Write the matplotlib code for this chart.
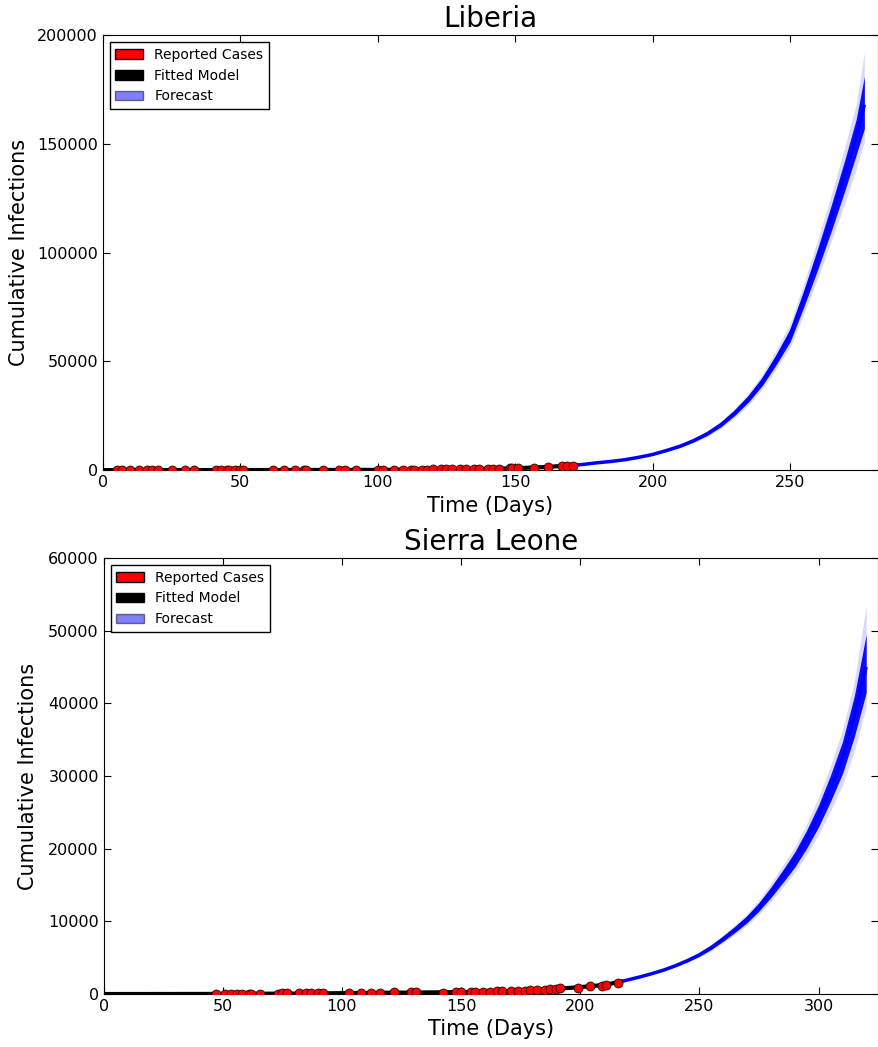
"""
Ebola cumulative infections: reported cases, fitted model and forecast
for Liberia and Sierra Leone.
"""

import matplotlib
matplotlib.use("Agg")
import matplotlib.pyplot as plt
from matplotlib.patches import Patch
from matplotlib.ticker import MultipleLocator


# ---- Liberia ----
LR_CASE_DAYS = [5, 7, 10, 13, 16, 18, 20, 25, 30, 33, 41, 43, 45, 46, 48, 50, 51,
                62, 66, 70, 73, 74, 80, 86, 88, 92, 100, 102, 106, 109, 112, 113,
                116, 118, 120, 123, 125, 127, 130, 132, 135, 137, 140, 142, 144,
                148, 149, 151, 157, 162, 167, 169, 171]
LR_CASES = [5, 8, 12, 13, 13, 14, 18, 27, 34, 35, 13, 13, 13, 13, 13, 13, 13,
            13, 13, 20, 33, 40, 60, 80, 95, 105, 120, 130, 150, 170, 195, 210,
            230, 250, 280, 310, 330, 360, 400, 440, 480, 520, 580, 620, 680,
            790, 830, 900, 1150, 1420, 1780, 1900, 2100]

LR_FIT_DAYS = [0, 40, 80, 100, 120, 140, 150, 160, 172]
LR_FIT = [5, 20, 55, 110, 260, 580, 880, 1350, 2300]

LR_FC_DAYS = [172, 175, 180, 185, 190, 195, 200, 205, 210, 215, 220, 225,
              230, 235, 240, 245, 250, 255, 260, 265, 270, 274, 277]
LR_FC_MID = [2300, 2650, 3400, 4000, 4800, 5900, 7200, 9000, 11000, 13600, 16800, 21000,
             26500, 33000, 41000, 51000, 62000, 79000, 97000, 116000, 136000, 153000, 168000]
LR_FC_LO = [2250, 2580, 3300, 3870, 4640, 5690, 6930, 8650, 10560, 13040, 16090, 20100,
            25330, 31500, 39100, 48600, 59000, 75100, 92100, 110000, 128900, 144800, 157000]
LR_FC_HI = [2350, 2720, 3500, 4130, 4960, 6110, 7470, 9350, 11440, 14160, 17510, 21900,
            27670, 34500, 42900, 53400, 65000, 82900, 101900, 122000, 143100, 161200, 181000]
LR_FC_MIN = [2200, 2520, 3220, 3780, 4520, 5520, 6720, 8380, 10220, 12600, 15520, 19360,
             24380, 30300, 37600, 46700, 56600, 71900, 88100, 105300, 123200, 138300, 151000]
LR_FC_MAX = [2400, 2780, 3580, 4220, 5080, 6280, 7680, 9620, 11780, 14600, 18080, 22640,
             28620, 35700, 44400, 55400, 67400, 86000, 105900, 126900, 149000, 168200, 192000]

# ---- Sierra Leone ----
SL_CASE_DAYS = [47, 51, 53.5, 56, 58, 61, 62, 65.5, 73, 75, 77, 82, 85, 87, 90, 92,
                103, 108, 112, 116, 122, 129, 131, 142.5, 148, 150, 154, 156, 159,
                162, 165, 167, 171, 174, 177, 179, 182, 185, 187.5, 190, 191.5,
                199, 204, 209, 211, 216]
SL_CASES = [16, 21, 28, 34, 40, 46, 50, 60, 70, 75, 80, 90, 95, 100, 105, 110,
            130, 140, 160, 180, 220, 250, 260, 200, 230, 250, 280, 300, 320,
            340, 360, 380, 410, 440, 470, 500, 540, 580, 650, 720, 790,
            850, 1050, 1150, 1250, 1550]

SL_FIT_DAYS = [0, 40, 80, 120, 150, 170, 190, 200, 210, 217]
SL_FIT = [0, 10, 60, 180, 260, 400, 720, 950, 1250, 1700]

SL_FC_DAYS = [217, 220, 225, 230, 235, 240, 245, 250, 255, 260, 265,
              270, 275, 280, 285, 290, 295, 300, 305, 310, 315, 320]
SL_FC_MID = [1700, 1950, 2350, 2800, 3300, 3900, 4600, 5400, 6400, 7600, 8900,
             10300, 12000, 14000, 16200, 18500, 21300, 24500, 28300, 32500, 38200, 45000]
SL_FC_LO = [1680, 1920, 2300, 2730, 3210, 3780, 4450, 5200, 6150, 7280, 8500,
            9820, 11420, 13280, 15330, 17460, 20060, 23000, 26500, 30300, 35400, 41500]
SL_FC_HI = [1720, 1980, 2400, 2870, 3390, 4020, 4750, 5600, 6650, 7920, 9300,
            10780, 12580, 14720, 17070, 19540, 22540, 26000, 30100, 34700, 41000, 49500]
SL_FC_MIN = [1660, 1890, 2260, 2680, 3140, 3690, 4330, 5060, 5970, 7060, 8220,
             9490, 11000, 12780, 14720, 16740, 19180, 21900, 25200, 28700, 33400, 39500]
SL_FC_MAX = [1740, 2010, 2440, 2920, 3460, 4110, 4870, 5740, 6830, 8140, 9580,
             11110, 13000, 15220, 17680, 20260, 23420, 27100, 31400, 36300, 43000, 53500]


def draw_country(ax, title, case_days, cases, fit_days, fit, fc_days,
                 fc_mid, fc_lo, fc_hi, fc_min, fc_max, xmax, ymax, ystep, ypad):
    ax.plot(fit_days, fit, color="black", linewidth=3, zorder=2)
    # forecast ensemble: faint outer envelope, dense core
    ax.fill_between(fc_days, fc_min, fc_max, color="blue", alpha=0.15, linewidth=0, zorder=2)
    ax.fill_between(fc_days, fc_lo, fc_hi, color="blue", alpha=0.95, linewidth=0, zorder=2)
    ax.plot(fc_days, fc_mid, color="blue", linewidth=2.5, zorder=2,
            solid_capstyle="butt")
    ax.plot(case_days, cases, "o", color="red", markeredgecolor="black",
            markeredgewidth=0.5, markersize=6.5, linestyle="none", zorder=3)

    ax.set_xlim(0, xmax)
    ax.set_ylim(0, ymax)
    ax.yaxis.set_major_locator(MultipleLocator(ystep))
    ax.set_title(title, fontsize=20)
    ax.set_xlabel("Time (Days)", fontsize=15)
    ax.set_ylabel("Cumulative Infections", fontsize=15, labelpad=ypad)
    ax.tick_params(direction="in", top=True, right=True, labelsize=11.5, length=5)

    handles = [
        Patch(facecolor="red", edgecolor="black", label="Reported Cases"),
        Patch(facecolor="black", edgecolor="black", label="Fitted Model"),
        Patch(facecolor="blue", edgecolor="black", alpha=0.5, label="Forecast"),
    ]
    leg = ax.legend(handles=handles, loc="upper left", fontsize=10,
                    fancybox=False, borderaxespad=0.5, handlelength=2.0,
                    framealpha=1.0)
    leg.get_frame().set_edgecolor("black")


fig = plt.figure(figsize=(8.79, 10.47), dpi=100, facecolor="white")
ax1 = fig.add_axes([0.117, 0.551, 0.882, 0.4155])
ax2 = fig.add_axes([0.118, 0.0506, 0.881, 0.4164])

draw_country(ax1, "Liberia", LR_CASE_DAYS, LR_CASES, LR_FIT_DAYS, LR_FIT,
             LR_FC_DAYS, LR_FC_MID, LR_FC_LO, LR_FC_HI, LR_FC_MIN, LR_FC_MAX,
             282, 200000, 50000, 6)
draw_country(ax2, "Sierra Leone", SL_CASE_DAYS, SL_CASES, SL_FIT_DAYS, SL_FIT,
             SL_FC_DAYS, SL_FC_MID, SL_FC_LO, SL_FC_HI, SL_FC_MIN, SL_FC_MAX,
             325, 60000, 10000, 7)

fig.savefig("out.png", dpi=100, facecolor="white")
